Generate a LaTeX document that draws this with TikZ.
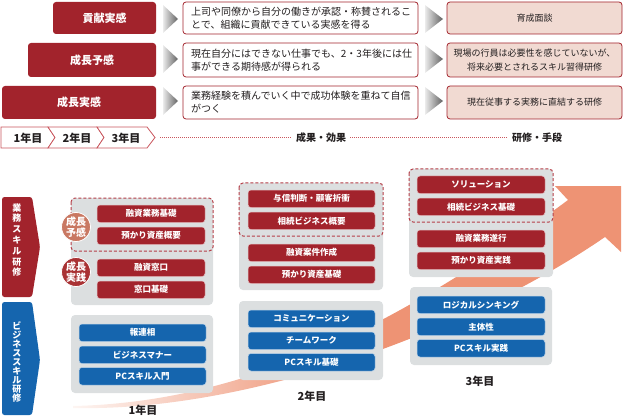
\documentclass[tikz,border=0pt]{standalone}
\usepackage{fontspec}
\setmainfont{Noto Sans CJK JP}
\definecolor{dred}{HTML}{A2232C}
\definecolor{dblue}{HTML}{1565AE}
\definecolor{pgray}{HTML}{DCDFE0}
\definecolor{pinkf}{HTML}{F1DAD2}
\definecolor{salm}{HTML}{EE9374}
\definecolor{circA}{HTML}{C97862}
\definecolor{circB}{HTML}{A93234}
\definecolor{barline}{HTML}{C9565D}
\definecolor{dashc}{HTML}{B53F48}
\definecolor{txt}{HTML}{231F20}
\newcommand{\bx}[7]{\node[#6, minimum width={(#4-#2)*1pt}, minimum height={(#5-#3)*1pt}] (#1) at ({(#2+#4)/2},{(#3+#5)/2}) {#7};}
\tikzset{
  redlabel/.style={fill=dred, rounded corners=3pt, inner sep=0pt, text=white, font=\fontsize{11}{13}\selectfont\bfseries},
  desc/.style={draw=dred, fill=white, rounded corners=3pt, line width=0.8pt, inner sep=0pt},
  desctext/.style={anchor=west, align=left, inner sep=0pt, text=txt, font=\fontsize{10}{13}\selectfont},
  pinkbox/.style={draw=dred, fill=pinkf, rounded corners=3pt, line width=0.8pt, inner sep=0pt, align=center, text=txt, font=\fontsize{9}{14}\selectfont},
  greychev/.style={left color=black!8, right color=black!62},
  barshape/.style={draw=barline, fill=white, line width=0.8pt},
  bartext/.style={inner sep=0pt, text=txt, font=\fontsize{11}{13}\selectfont\bfseries},
  dotline/.style={draw=barline, line width=1pt, dash pattern=on 1pt off 1pt},
  midtext/.style={inner sep=4pt, text=txt, font=\fontsize{10}{12}\selectfont\bfseries},
  panel/.style={fill=pgray, rounded corners=4pt},
  dashbox/.style={draw=dashc, line width=1pt, dash pattern=on 3pt off 2pt, rounded corners=4pt},
  rit/.style={fill=dred, draw=white!70!dred, line width=0.5pt, rounded corners=3pt, inner sep=0pt, text=white, font=\fontsize{8.5}{10}\selectfont\bfseries},
  bit/.style={fill=dblue, draw=white!70!dblue, line width=0.5pt, rounded corners=3pt, inner sep=0pt, text=white, font=\fontsize{8.5}{10}\selectfont\bfseries},
  circ/.style={circle, draw=white, line width=0.8pt, minimum size=29pt, inner sep=0pt, text=white, align=center, font=\fontsize{10}{10.5}\selectfont\bfseries},
  yeartext/.style={inner sep=0pt, text=txt, font=\fontsize{11}{13}\selectfont\bfseries},
}
\begin{document}
\begin{tikzpicture}[x=1pt,y=-1pt]
\useasboundingbox (0,0) rectangle (624,417);

% ---------- top section ----------
\bx{k1}{53}{2}{156}{34}{redlabel}{貢献実感}
\bx{k2}{28}{43}{156}{77}{redlabel}{成長予感}
\bx{k3}{2}{86}{156}{119}{redlabel}{成長実感}

\shade[greychev] (163,5) -- (178,19) -- (163,33) -- cycle;
\shade[greychev] (163,45) -- (178,59) -- (163,73) -- cycle;
\shade[greychev] (163,87) -- (178,101) -- (163,115) -- cycle;

\bx{d1}{183}{2}{418}{34}{desc}{}
\bx{d2}{183}{43}{418}{77}{desc}{}
\bx{d3}{183}{86}{418}{119}{desc}{}
\node[desctext] (d1t) at (191,18.5) {上司や同僚から自分の働きが承認・称賛されるこ\\とで、組織に貢献できている実感を得る};
\node[desctext] (d2t) at (191,60) {現在自分にはできない仕事でも、2・3年後には仕\\事ができる期待感が得られる};
\node[desctext] (d3t) at (191,102.5) {業務経験を積んでいく中で成功体験を重ねて自信\\がつく};

\shade[greychev] (425,5) -- (443,19) -- (425,33) -- cycle;
\shade[greychev] (425,45) -- (443,59) -- (425,73) -- cycle;
\shade[greychev] (425,87) -- (443,101) -- (425,115) -- cycle;

\bx{r1}{447}{2}{622}{34}{pinkbox}{育成面談}
\bx{r2}{447}{43}{622}{77}{pinkbox}{現場の行員は必要性を感じていないが、\\将来必要とされるスキル習得研修}
\bx{r3}{447}{86}{622}{119}{pinkbox}{現在従事する実務に直結する研修}

% year bar
\draw[barshape] (1,127) -- (48,127) -- (55,137.5) -- (48,148) -- (1,148) -- cycle;
\draw[barshape] (48,127) -- (97,127) -- (104,137.5) -- (97,148) -- (48,148) -- (55,137.5) -- cycle;
\draw[barshape] (97,127) -- (147,127) -- (155,137.5) -- (147,148) -- (97,148) -- (104,137.5) -- cycle;
\node[bartext] (y1) at (28,138) {1年目};
\node[bartext] (y2) at (77,138) {2年目};
\node[bartext] (y3) at (126,138) {3年目};

\coordinate (ds) at (160,137.5);
\node[midtext] (res) at (321,138) {成果・効果};
\node[midtext] (tool) at (537,138) {研修・手段};
\draw[dotline] (ds) -- (res.west |- ds);
\draw[dotline] (res.east |- ds) -- (tool.west |- ds);

% ---------- big arrow ----------
\begin{scope}
\clip (73,406) .. controls (260,402) and (420,310) .. (568,200) -- (555,186) -- (621,186) -- (621,252) -- (605,237) .. controls (470,330) and (250,412) .. (73,408) -- cycle;
\shade[left color=salm!8, right color=salm] (70,360) rectangle (330,417);
\fill[salm] (329,150) rectangle (624,417);
\end{scope}

% ---------- left labels ----------
\fill[dred, rounded corners=2.5pt] (2,197) -- (32,197) -- (40,247) -- (32,297) -- (2,297) -- cycle;
\node[inner sep=0pt, align=center, text=white, font=\fontsize{9}{10.8}\selectfont\bfseries] (lab1) at (17,240) {業\\務\\ス\\キ\\ル\\研\\修};
\fill[dblue, rounded corners=2.5pt] (2,302) -- (32,302) -- (40,360) -- (32,415) -- (2,415) -- cycle;
\node[inner sep=0pt, align=center, text=white, font=\fontsize{9}{9}\selectfont\bfseries] (lab2) at (17,362) {ビ\\ジ\\ネ\\ス\\ス\\キ\\ル\\研\\修};

% ---------- year 1 ----------
\fill[panel] (71,198) rectangle (213,305);
\draw[dashbox] (71,198) rectangle (213,251);
\bx{a1}{97}{205}{205}{222.5}{rit}{融資業務基礎}
\bx{a2}{97}{227}{205}{244.5}{rit}{預かり資産概要}
\bx{a3}{97}{259}{205}{276.5}{rit}{融資窓口}
\bx{a4}{97}{281}{205}{298.5}{rit}{窓口基礎}
\node[circ, fill=circA] (c1) at (76,227) {成長\\予感};
\node[circ, fill=circB] (c2) at (76,272) {成長\\実践};
\fill[panel] (71,315) rectangle (213,393);
\bx{b1}{79}{324}{206}{341.5}{bit}{報連相}
\bx{b2}{79}{346}{206}{363.5}{bit}{ビジネスマナー}
\bx{b3}{79}{367.5}{206}{385}{bit}{PCスキル入門}
\node[yeartext] (yr1) at (143,410) {1年目};

% ---------- year 2 ----------
\fill[panel] (239,183) rectangle (383,290);
\draw[dashbox] (239,183) rectangle (383,236);
\bx{e1}{248}{190}{375}{207.5}{rit}{与信判断・顧客折衝}
\bx{e2}{248}{212}{375}{229.5}{rit}{相続ビジネス概要}
\bx{e3}{248}{244}{375}{261.5}{rit}{融資案件作成}
\bx{e4}{248}{266}{375}{283.5}{rit}{預かり資産基礎}
\fill[panel] (239,301) rectangle (383,380);
\bx{f1}{248}{310}{375}{327.5}{bit}{コミュニケーション}
\bx{f2}{248}{332}{375}{349.5}{bit}{チームワーク}
\bx{f3}{248}{353.5}{375}{371}{bit}{PCスキル基礎}
\node[yeartext] (yr2) at (312,396) {2年目};

% ---------- year 3 ----------
\fill[panel] (409,169) rectangle (553,277);
\draw[dashbox] (409,169) rectangle (553,222);
\bx{g1}{417}{176}{545}{193.5}{rit}{ソリューション}
\bx{g2}{417}{198}{545}{215.5}{rit}{相続ビジネス基礎}
\bx{g3}{417}{230}{545}{247.5}{rit}{融資業務遂行}
\bx{g4}{417}{252}{545}{269.5}{rit}{預かり資産実践}
\fill[panel] (410,287) rectangle (552,365);
\bx{h1}{417}{296}{545}{313.5}{bit}{ロジカルシンキング}
\bx{h2}{417}{318}{545}{335.5}{bit}{主体性}
\bx{h3}{417}{339.5}{545}{357}{bit}{PCスキル実践}
\node[yeartext] (yr3) at (480,381) {3年目};
\end{tikzpicture}
\end{document}
